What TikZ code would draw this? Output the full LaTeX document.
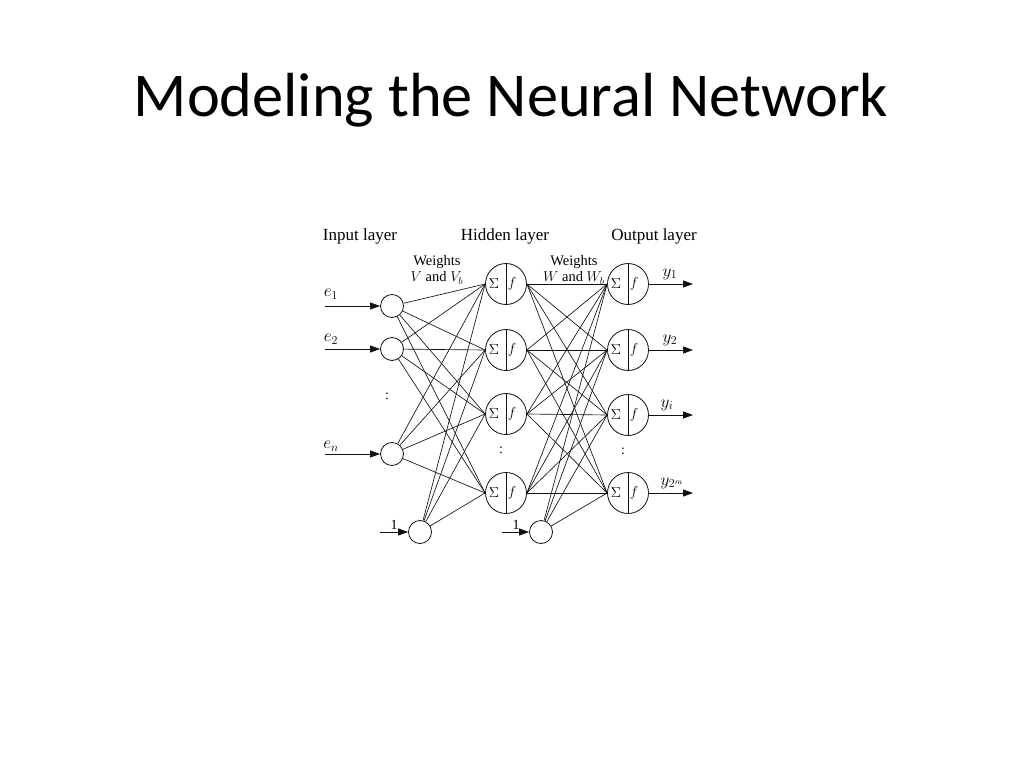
\documentclass[tikz,border=0pt]{standalone}
\usepackage{fontspec}
\setmainfont{Liberation Serif}
\newfontfamily\titlefont{Carlito}
\usetikzlibrary{arrows.meta, positioning}
\definecolor{inkBlack}{HTML}{111111}
\tikzset{
  unit/.style={circle, draw=inkBlack, line width=0.8pt, minimum size=23pt, inner sep=0pt},
  neuron/.style={circle, draw=inkBlack, line width=0.8pt, minimum size=41pt, inner sep=0pt,
    path picture={\draw[inkBlack, line width=0.8pt] (path picture bounding box.north) -- (path picture bounding box.south);}},
  wire/.style={inkBlack, line width=0.65pt},
  feedarr/.style={-{Triangle[length=10pt, width=7pt]}, inkBlack, line width=0.8pt},
  layertxt/.style={font=\fontsize{17}{19}\selectfont},
  weighttxt/.style={font=\fontsize{14.5}{16}\selectfont, align=center},
  smalltxt/.style={font=\fontsize{14}{16}\selectfont, inner sep=0pt},
}

\begin{document}
\begin{tikzpicture}[x=1pt, y=-1pt]
  \useasboundingbox[fill=white] (0,0) rectangle (1024,768);
  \node[font=\titlefont\fontsize{62.3}{68}\selectfont] (title) at (511,100) {Modeling the Neural Network};

  % layer captions
  \node[layertxt] (capin) at (360,236) {Input layer};
  \node[layertxt] (caphid) at (505,236) {Hidden layer};
  \node[layertxt] (capout) at (654,236) {Output layer};
  \node[weighttxt] (wv) at (437,270) {Weights\\$V$ and $V_b$};
  \node[weighttxt] (ww) at (574,270) {Weights\\$W$ and $W_b$};

  % input layer
  \node[unit] (in1) at (392,306) {};
  \node[unit] (in2) at (392,349) {};
  \node[unit] (in3) at (392,454) {};
  \node[unit] (bin) at (420,532) {};
  % hidden layer
  \node[neuron] (h1) at (506,284) {};
  \node[neuron] (h2) at (506,350) {};
  \node[neuron] (h3) at (506,414) {};
  \node[neuron] (h4) at (506,493) {};
  \node[unit] (bh) at (541,532) {};
  % output layer
  \node[neuron] (o1) at (628,284) {};
  \node[neuron] (o2) at (628,350) {};
  \node[neuron] (o3) at (628,415) {};
  \node[neuron] (o4) at (628,493) {};

  \foreach \n in {h1,h2,h3,h4,o1,o2,o3,o4}{
    \node[smalltxt] (\n sum) at ([xshift=-12pt]\n.center) {$\Sigma$};
    \node[smalltxt] (\n fn) at ([xshift=6pt]\n.center) {$f$};
  }

  % weights
  \foreach \i in {1,2,3}{
    \foreach \j in {1,...,4}{
      \draw[wire] (in\i) -- (h\j.west);}}
  \foreach \j in {1,...,4}{
    \draw[wire] (bin) -- (h\j.west);
    \draw[wire] (bh) -- (o\j.west);
    \foreach \i in {1,...,4}{
      \draw[wire] (h\i.east) -- (o\j.west);}}

  % inputs
  \coordinate (ein1) at (325,306);
  \coordinate (ein2) at (325,349);
  \coordinate (ein3) at (325,454);
  \coordinate (ebin) at (380,532);
  \coordinate (ebh) at (502,532);
  \foreach \n in {in1,in2,in3,bin,bh}{
    \draw[feedarr] (e\n) -- (\n);}
  \node[layertxt] (le1) at (331,294) {$e_1$};
  \node[layertxt] (le2) at (331,339) {$e_2$};
  \node[layertxt] (le3) at (331,446) {$e_n$};
  \node[smalltxt] (lb1) at (394,525) {1};
  \node[smalltxt] (lb2) at (516,525) {1};

  % outputs
  \foreach \j in {1,...,4}{
    \coordinate (y\j) at (693,0 |- o\j);
    \draw[feedarr] (o\j) -- (y\j);}
  \node[layertxt] (ly1) at (670,274) {$y_1$};
  \node[layertxt] (ly2) at (670,340) {$y_2$};
  \node[layertxt] (ly3) at (667,405) {$y_i$};
  \node[layertxt] (ly4) at (672,483) {$y_{2^m}$};

  % elided units
  \node[smalltxt] (din) at (387,396) {:};
  \node[smalltxt] (dhid) at (501,450) {:};
  \node[smalltxt] (dout) at (623,451) {:};
\end{tikzpicture}
\end{document}
